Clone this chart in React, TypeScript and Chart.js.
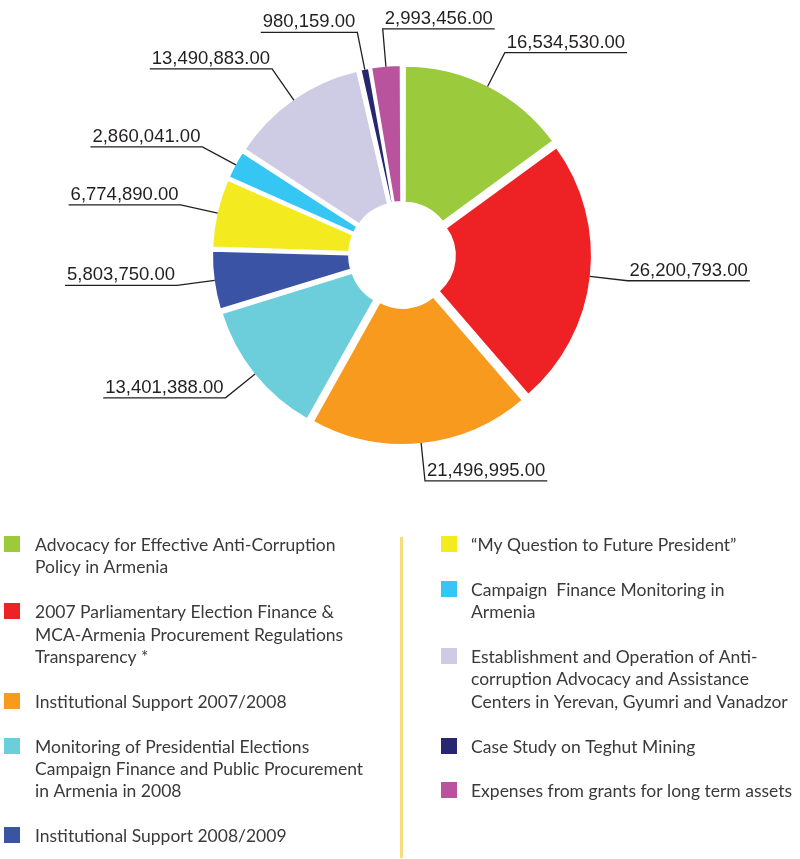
import React, { useEffect, useRef } from 'react';
import { Chart, registerables } from 'chart.js';

Chart.register(...registerables);

// ---- data ----
const legendLines: string[][] = [
  ['Advocacy for Effective Anti-Corruption', 'Policy in Armenia'],
  ['2007 Parliamentary Election Finance &', 'MCA-Armenia Procurement Regulations', 'Transparency *'],
  ['Institutional Support 2007/2008'],
  ['Monitoring of Presidential Elections', 'Campaign Finance and Public Procurement', 'in Armenia in 2008'],
  ['Institutional Support 2008/2009'],
  ['\u201CMy Question to Future President\u201D'],
  ['Campaign  Finance Monitoring in', 'Armenia'],
  ['Establishment and Operation of Anti-', 'corruption Advocacy and Assistance', 'Centers in Yerevan, Gyumri and Vanadzor'],
  ['Case Study on Teghut Mining'],
  ['Expenses from grants for long term assets'],
];
const categories = legendLines.map((l) => l.join(' '));
const values = [16534530, 26200793, 21496995, 13401388, 5803750, 6774890, 2860041, 13490883, 980159, 2993456];
const colors = ['#9bca3c', '#ee2225', '#f89a1e', '#6ccddb', '#3b53a4', '#f3eb1f', '#36c6f3', '#cecbe4', '#262770', '#b9539e'];
const labelSides = ['right', 'right', 'right', 'left', 'left', 'left', 'left', 'left', 'left', 'right'];
const legendColumn = [0, 0, 0, 0, 0, 1, 1, 1, 1, 1];

function fmt(v: number): string {
  const [i, d] = v.toFixed(2).split('.');
  return i.replace(/\B(?=(\d{3})+(?!\d))/g, ',') + '.' + d;
}

const SLICE_SHIFT = 6; // px translation of exploded slices
const ELBOW_R = 227;

// keep exploded slices at the same radius (Chart.js enlarges small offset arcs)
const compensatePlugin = {
  id: 'compensate',
  beforeDatasetDraw(chart: any, args: any) {
    args.meta.data.forEach((arc: any) => {
      const o = (arc.options.offset || 0) / 4;
      const fix = 1 - Math.sin(Math.min(Math.PI, arc.circumference || 0));
      const ro = o * fix;
      arc.$saved = [arc.outerRadius, arc.innerRadius];
      arc.outerRadius = arc.outerRadius - ro;
      arc.innerRadius = arc.innerRadius - ro;
    });
  },
  afterDatasetDraw(chart: any, args: any) {
    args.meta.data.forEach((arc: any) => {
      if (arc.$saved) {
        arc.outerRadius = arc.$saved[0];
        arc.innerRadius = arc.$saved[1];
        delete arc.$saved;
      }
    });
  },
};

const leaderPlugin = {
  id: 'leaders',
  afterDatasetsDraw(chart: any) {
    const ctx = chart.ctx;
    const meta = chart.getDatasetMeta(0);
    ctx.save();
    ctx.font = '18.5px "Liberation Sans", Arial, sans-serif';
    ctx.textBaseline = 'alphabetic';
    ctx.fillStyle = '#231f20';
    ctx.strokeStyle = '#231f20';
    ctx.lineWidth = 1.3;
    meta.data.forEach((arc: any, i: number) => {
      const mid = (arc.startAngle + arc.endAngle) / 2;
      const c = Math.cos(mid), s = Math.sin(mid);
      const ax = arc.x + c * (arc.outerRadius + SLICE_SHIFT - 1);
      const ay = arc.y + s * (arc.outerRadius + SLICE_SHIFT - 1);
      const ex = arc.x + c * ELBOW_R;
      const ey = arc.y + s * ELBOW_R;
      const text = fmt(values[i]);
      const w = ctx.measureText(text).width;
      const right = labelSides[i] === 'right';
      const endX = right ? ex + w + 4 : ex - w - 4;
      ctx.beginPath();
      ctx.moveTo(ax, ay);
      ctx.lineTo(ex, ey);
      ctx.lineTo(endX, ey);
      ctx.stroke();
      ctx.textAlign = right ? 'left' : 'right';
      ctx.fillText(text, right ? ex + 2 : ex - 2, ey - 5);
    });
    ctx.restore();
  },
};

const legendPlugin = {
  id: 'customLegend',
  afterDraw(chart: any) {
    const ctx = chart.ctx;
    ctx.save();
    // divider
    ctx.fillStyle = '#f5dc7e';
    ctx.fillRect(400, 537, 3, 321);
    ctx.font = '17.5px Lato, "Noto Sans", sans-serif';
    ctx.textBaseline = 'alphabetic';
    ctx.textAlign = 'left';
    const baseY = 551;
    const step = 22.4;
    const colSquareX = [4, 441];
    const colTextX = [35, 471];
    const lineIdx = [0, 0];
    legendLines.forEach((lines, i) => {
      const col = legendColumn[i];
      const li = lineIdx[col];
      const by = baseY + li * step;
      ctx.fillStyle = colors[i];
      ctx.fillRect(colSquareX[col], Math.round(by - 15), 16, 16);
      ctx.fillStyle = '#3a3a3a';
      lines.forEach((t, k) => {
        ctx.fillText(t, colTextX[col], by + k * step);
      });
      lineIdx[col] = li + lines.length + 1;
    });
    ctx.restore();
  },
};

export default function App() {
  const canvasRef = useRef<HTMLCanvasElement | null>(null);
  useEffect(() => {
    if (!canvasRef.current) return;
    const chart = new Chart(canvasRef.current, {
      type: 'doughnut',
      data: {
        labels: categories,
        datasets: [
          {
            data: values,
            backgroundColor: colors,
            borderColor: '#ffffff',
            borderWidth: 2,
            offset: SLICE_SHIFT * 4,
            hoverOffset: 0,
            hoverBorderWidth: 2,
          },
        ],
      },
      options: {
        animation: false,
        responsive: true,
        maintainAspectRatio: false,
        events: [],
        radius: 184,
        cutout: '25.5%',
        rotation: 0,
        layout: { padding: { left: 4, right: 0, top: 0, bottom: 349 } },
        plugins: {
          legend: { display: false },
          tooltip: { enabled: false },
        },
      } as any,
      plugins: [compensatePlugin, leaderPlugin, legendPlugin],
    });
    return () => chart.destroy();
  }, []);
  return (
    <div style={{ position: 'absolute', left: 0, top: 0, width: 800, height: 859, background: '#ffffff' }}>
      <canvas ref={canvasRef} />
    </div>
  );
}
